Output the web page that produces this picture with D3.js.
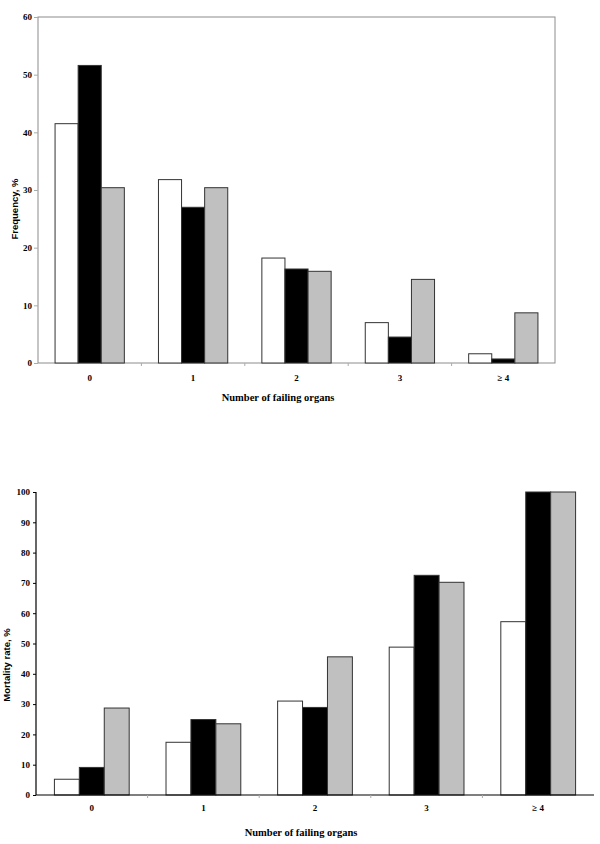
<!DOCTYPE html>
<html>
<head>
<meta charset="utf-8">
<script src="https://cdn.jsdelivr.net/npm/d3@7"></script>
<style>
  body { margin: 0; background: #fff; }
  svg text { font-family: "Liberation Serif", "Times New Roman", serif; font-weight: bold; fill: #000; }
  .ylab { font-family: "Liberation Sans", Arial, sans-serif; }
</style>
</head>
<body>
<div id="vizholder"></div>
<script>
// categories (number of failing organs)
var categories = ["0", "1", "2", "3", "\u2265 4"];
var seriesNames = ["white", "black", "gray"];

// frequency, %
var freqWhite = [41.5, 31.8, 18.2, 7.0, 1.6];
var freqBlack = [51.6, 27.0, 16.3, 4.5, 0.7];
var freqGray  = [30.4, 30.4, 15.9, 14.5, 8.7];

// mortality rate, %
var mortWhite = [5.2, 17.4, 31.0, 48.8, 57.2];
var mortBlack = [9.1, 24.9, 28.9, 72.5, 100];
var mortGray  = [28.7, 23.5, 45.6, 70.2, 100];

var freqTicks = [0, 10, 20, 30, 40, 50, 60];
var mortTicks = [0, 10, 20, 30, 40, 50, 60, 70, 80, 90, 100];

var fills = {"white": "#ffffff", "black": "#000000", "gray": "#c0c0c0"};

var svg = d3.select("#vizholder").append("svg")
    .attr("width", 600)
    .attr("height", 844);

function buildRows(a, b, c) {
	var rows = [];
	for (var i = 0; i < categories.length; i++) {
		rows.push({cat: categories[i], values: [
			{key: "white", v: a[i]}, {key: "black", v: b[i]}, {key: "gray", v: c[i]}
		]});
	}
	return rows;
}

function drawChart(opt) {
	var g = svg.append("g");

	var x = d3.scaleBand()
		.domain(categories)
		.range([opt.left, opt.right])
		.paddingInner(opt.pad)
		.paddingOuter(opt.pad / 2);

	var xs = d3.scaleBand()
		.domain(seriesNames)
		.range([0, x.bandwidth()]);

	var y = d3.scaleLinear()
		.domain([0, opt.max])
		.range([opt.bottom, opt.top]);

	if (opt.box) {
		g.append("rect")
			.attr("x", opt.left)
			.attr("y", opt.top)
			.attr("width", opt.right - opt.left)
			.attr("height", opt.bottom - opt.top)
			.attr("fill", "none")
			.attr("stroke", "#8c8c8c")
			.attr("stroke-width", 1);
	}

	// y axis
	var yax = g.append("g")
		.attr("transform", "translate(" + opt.left + ",0)")
		.call(d3.axisLeft(y).tickValues(opt.ticks).tickSize(opt.box ? 4 : 3).tickPadding(opt.box ? 2 : 3));
	yax.select(".domain").remove();
	yax.selectAll(".tick line").attr("stroke", opt.box ? "#aaa" : "#000");
	yax.selectAll("text").style("font-size", "9px").style("font-family", "Liberation Serif").style("font-weight", "bold");

	// bars
	var groups = g.selectAll(".grp")
		.data(buildRows(opt.a, opt.b, opt.c))
		.enter().append("g")
		.attr("transform", function(d) { return "translate(" + x(d.cat) + ",0)"; });

	groups.selectAll("rect")
		.data(function(d) { return d.values; })
		.enter().append("rect")
		.attr("x", function(d) { return xs(d.key); })
		.attr("width", xs.bandwidth())
		.attr("y", function(d) { return y(d.v); })
		.attr("height", function(d) { return y(0) - y(d.v); })
		.attr("fill", function(d) { return fills[d.key]; })
		.attr("stroke", "#333")
		.attr("stroke-width", 1);

	// x baseline and ticks between categories
	if (!opt.box) {
		g.append("line")
			.attr("x1", opt.left).attr("x2", opt.right)
			.attr("y1", y(0)).attr("y2", y(0))
			.attr("stroke", "#000").attr("stroke-width", 1.2);
		g.append("line")
			.attr("x1", opt.left).attr("x2", opt.left)
			.attr("y1", y(0)).attr("y2", y(opt.max))
			.attr("stroke", "#000").attr("stroke-width", 1.2);
	}
	g.selectAll(".xtick")
		.data([1, 2, 3, 4])
		.enter().append("line")
		.attr("x1", function(i) { return opt.left + i * x.step(); })
		.attr("x2", function(i) { return opt.left + i * x.step(); })
		.attr("y1", y(0))
		.attr("y2", y(0) + 3)
		.attr("stroke", "#aaa");

	g.selectAll(".catlab")
		.data(categories)
		.enter().append("text")
		.attr("x", function(d) { return x(d) + x.bandwidth() / 2; })
		.attr("y", opt.catY)
		.attr("text-anchor", "middle")
		.style("font-size", "9px")
		.text(function(d) { return d; });

	g.append("text")
		.attr("x", opt.titleX)
		.attr("y", opt.titleY)
		.attr("text-anchor", "middle")
		.style("font-size", "10.5px")
		.text("Number of failing organs");

	g.append("text")
		.attr("class", "ylab")
		.attr("transform", "translate(" + opt.ylabX + "," + opt.ylabY + ") rotate(-90)")
		.attr("text-anchor", "middle")
		.style("font-size", "9.5px")
		.text(opt.ylab);
}

drawChart({
	left: 38, right: 555, top: 17, bottom: 363, pad: 0.33, max: 60,
	ticks: freqTicks, box: true,
	a: freqWhite, b: freqBlack, c: freqGray,
	catY: 381, titleX: 278, titleY: 401,
	ylab: "Frequency, %", ylabX: 18, ylabY: 209
});

drawChart({
	left: 36, right: 594, top: 492, bottom: 795, pad: 0.33, max: 100,
	ticks: mortTicks, box: false,
	a: mortWhite, b: mortBlack, c: mortGray,
	catY: 811, titleX: 301, titleY: 836,
	ylab: "Mortality rate, %", ylabX: 10, ylabY: 665
});
</script>
</body>
</html>
